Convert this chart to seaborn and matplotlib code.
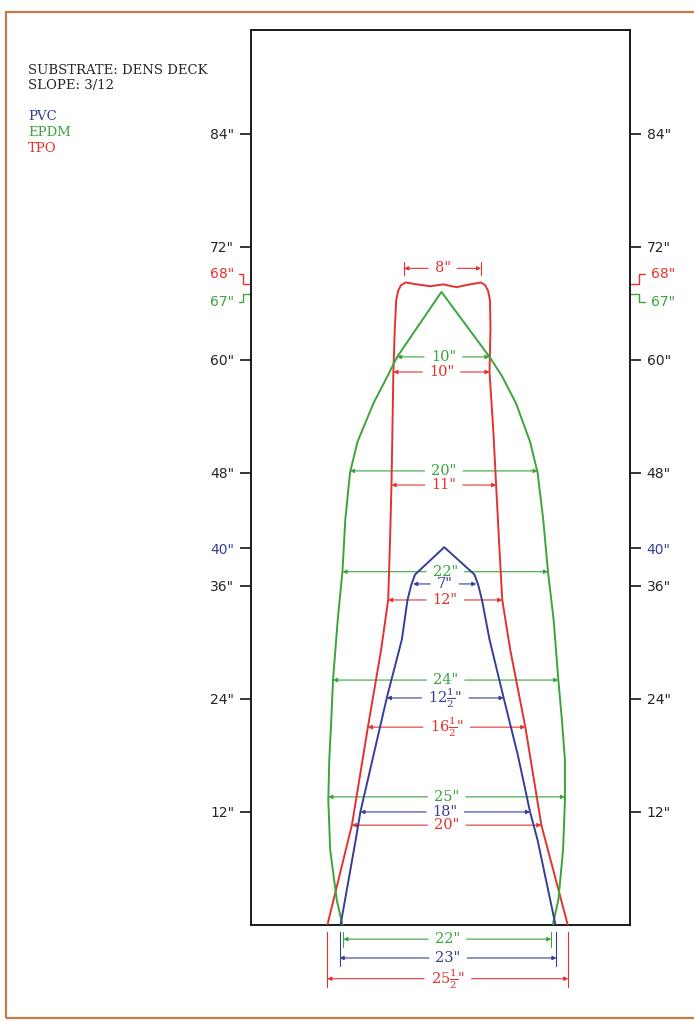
import pandas as pd
import seaborn as sns
import matplotlib.pyplot as plt
from matplotlib.patches import Rectangle

sns.set_style('white')
plt.rcParams['font.family'] = ['DejaVu Serif']
plt.rcParams['mathtext.fontset'] = 'dejavuserif'

BLUE = '#353f98'
GREEN = '#3ba43c'
RED = '#e2332f'
INK = '#262626'

# outlines in inches: height, left edge, right edge
tpo_h = [0, 10.6, 21.0, 29.2, 34.5, 40.9, 46.7, 52.5, 58.7, 63.2, 66.3, 67.3, 67.9, 68.2]
tpo_left = [-12.5, -9.9, -8.2, -6.8, -6.05, -5.85, -5.7, -5.6, -5.5, -5.35, -5.2, -5.0, -4.7, -4.2]
tpo_right = [13.0, 10.2, 8.5, 6.9, 6.05, 5.7, 5.4, 5.1, 4.7, 4.8, 4.75, 4.55, 4.25, 3.8]
tpo_top_x = [-3.0, -1.6, -0.2, 1.2, 2.6]
tpo_top_y = [68.0, 67.8, 68.0, 67.7, 68.0]

epdm_h = [0, 2.65, 7.96, 13.27, 17.5, 21.5, 26.0, 32.4, 37.5, 43.0, 48.0, 51.3, 55.4, 58.3, 60.3]
epdm_left = [-10.9, -11.5, -12.2, -12.4, -12.3, -12.1, -11.9, -11.4, -10.9, -10.6, -10.1, -9.3, -7.6, -6.1, -5.1]
epdm_right = [11.4, 12.0, 12.5, 12.7, 12.7, 12.4, 12.0, 11.5, 10.9, 10.4, 9.8, 9.0, 7.5, 6.0, 4.7]
epdm_peak = (-0.4, 67.2)

pvc_h = [0, 9.0, 12.0, 18.05, 24.1, 30.3, 34.5, 36.1, 37.2]
pvc_left = [-11.1, -9.5, -9.0, -7.6, -6.2, -4.6, -4.0, -3.6, -3.2]
pvc_right = [11.7, 9.8, 9.0, 7.7, 6.2, 4.7, 3.9, 3.5, 3.1]
pvc_peak = (-0.1, 40.1)

# dimension lines: height, left end, right end, label
half = r'\frac{1}{2}'
epdm_dims = [(60.3, -5.1, 4.7, '10"'), (48.2, -10.1, 9.8, '20"'), (37.5, -10.9, 10.9, '22"'),
             (26.0, -11.9, 12.0, '24"'), (13.6, -12.4, 12.7, '25"'), (-1.5, -10.8, 11.25, '22"')]
tpo_dims = [(69.7, -4.35, 3.8, '8"'), (58.7, -5.5, 4.7, '10"'), (46.7, -5.7, 5.4, '11"'),
            (34.5, -6.05, 6.05, '12"'), (21.0, -8.2, 8.5, rf'$16{half}$"'),
            (10.6, -9.9, 10.2, '20"'), (-5.7, -12.5, 13.05, rf'$25{half}$"')]
pvc_dims = [(36.2, -3.4, 3.3, '7"'), (24.1, -6.2, 6.2, rf'$12{half}$"'),
            (12.0, -9.0, 9.0, '18"'), (-3.5, -11.2, 11.8, '23"')]

ticks = [12, 24, 36, 40, 48, 60, 72, 84]


def outline(h, left, right, top_x, top_y):
    xs = list(left) + list(top_x) + list(right)[::-1]
    ys = list(h) + list(top_y) + list(h)[::-1]
    return pd.DataFrame({'x': xs, 'y': ys})


fig = plt.figure(figsize=(6.94, 10.21), dpi=100)
ax = fig.add_axes([251 / 694, 96 / 1021, 379 / 694, 895 / 1021])
ax.set_xlim(-20.6, 19.6)
ax.set_ylim(0, 95)

shapes = [
    (outline(tpo_h, tpo_left, tpo_right, tpo_top_x, tpo_top_y), RED),
    (outline(epdm_h, epdm_left, epdm_right, [epdm_peak[0]], [epdm_peak[1]]), GREEN),
    (outline(pvc_h, pvc_left, pvc_right, [pvc_peak[0]], [pvc_peak[1]]), BLUE),
]
for df, col in shapes:
    sns.lineplot(data=df, x='x', y='y', sort=False, estimator=None, color=col,
                 lw=1.4, ax=ax, zorder=4)
ax.set_xlim(-20.6, 19.6)
ax.set_ylim(0, 95)

renderer = fig.canvas.get_renderer()
arrow = dict(arrowstyle='-|>', lw=0.8, mutation_scale=6, shrinkA=0, shrinkB=0)
for dims, col in [(epdm_dims, GREEN), (tpo_dims, RED), (pvc_dims, BLUE)]:
    for y, x0, x1, lab in dims:
        t = ax.text((x0 + x1) / 2, y, lab, color=col, fontsize=10.5, ha='center',
                    va='center', zorder=5, clip_on=False)
        bb = t.get_window_extent(renderer).transformed(ax.transData.inverted())
        gap = 0.7
        ax.annotate('', xy=(x0, y), xytext=(bb.x0 - gap, y), annotation_clip=False,
                    arrowprops=dict(arrow, color=col), zorder=2)
        ax.annotate('', xy=(x1, y), xytext=(bb.x1 + gap, y), annotation_clip=False,
                    arrowprops=dict(arrow, color=col), zorder=2)

# extension lines for the top and base dimensions
ax.plot([-4.35, -4.35], [69.0, 70.4], color=RED, lw=0.8)
ax.plot([3.8, 3.8], [69.0, 70.4], color=RED, lw=0.8)
for xa, xb, lo, col in [(-10.8, 11.25, -2.3, GREEN), (-11.2, 11.8, -4.4, BLUE),
                        (-12.5, 13.05, -6.6, RED)]:
    for xx in (xa, xb):
        ax.plot([xx, xx], [-0.75, lo], color=col, lw=0.8, clip_on=False)

ax.set_xticks([])
ax.set_yticks(ticks)
ax.set_yticklabels([f'{t}"' for t in ticks])
ax.set_xlabel('')
ax.set_ylabel('')
ax.yaxis.set_ticks_position('both')
ax.tick_params(axis='y', direction='out', length=8, width=1.3, pad=4, colors=INK,
               labelleft=True, labelright=True, labelsize=10)
for t, tk in zip(ticks, ax.yaxis.get_major_ticks()):
    for lab in (tk.label1, tk.label2):
        lab.set_family('DejaVu Sans')
    if t == 40:
        for art in (tk.tick1line, tk.tick2line, tk.label1, tk.label2):
            art.set_color(BLUE)
for s in ax.spines.values():
    s.set_color('#1a1a1a')
    s.set_linewidth(1.4)

# 68" / 67" stepped markers on both sides
for y_lab, y_val, lab, col in [(69.1, 68.0, '68"', RED), (66.1, 67.0, '67"', GREEN)]:
    ax.plot([-21.9, -21.4, -21.4, -20.6], [y_lab, y_lab, y_val, y_val], color=col,
            lw=1.0, clip_on=False)
    ax.plot([19.6, 20.6, 20.6, 21.2], [y_val, y_val, y_lab, y_lab], color=col,
            lw=1.0, clip_on=False)
    ax.text(-22.4, y_lab, lab, color=col, fontsize=10, family='DejaVu Sans',
            ha='right', va='center', clip_on=False)
    ax.text(21.8, y_lab, lab, color=col, fontsize=10, family='DejaVu Sans',
            ha='left', va='center', clip_on=False)

fig.text(28 / 694, 1 - 70 / 1021, 'SUBSTRATE: DENS DECK', fontsize=9.5, color=INK, va='center')
fig.text(28 / 694, 1 - 86 / 1021, 'SLOPE: 3/12', fontsize=9.5, color=INK, va='center')
for yy, lab, col in [(117, 'PVC', BLUE), (133, 'EPDM', GREEN), (149, 'TPO', RED)]:
    fig.text(28 / 694, 1 - yy / 1021, lab, fontsize=9.5, color=col, va='center')

fig.add_artist(Rectangle((6 / 694, 3 / 1021), 1.0, 1006 / 1021, fill=False,
                         ec='#c47a48', lw=1.6, transform=fig.transFigure))

fig.savefig('out.png', dpi=100)
